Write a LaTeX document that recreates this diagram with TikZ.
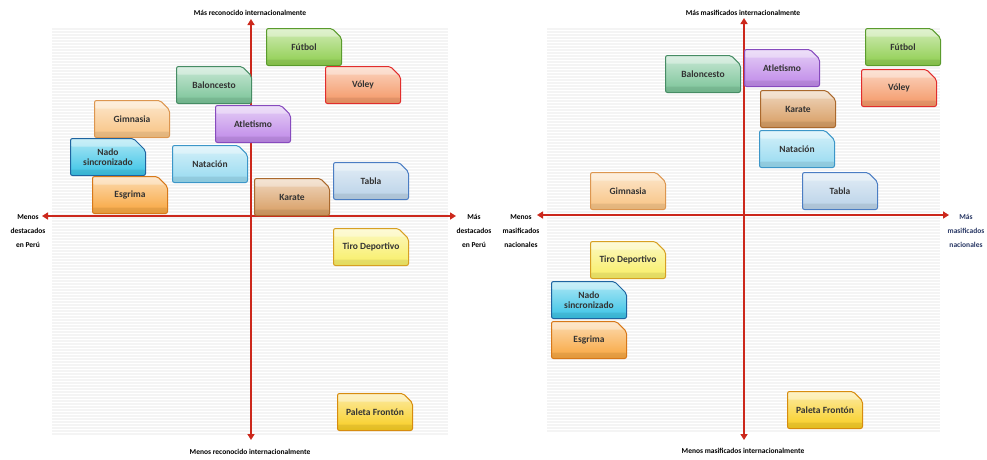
\documentclass[tikz,border=0pt]{standalone}
\usepackage{fontspec}
\setmainfont{Carlito}
\usetikzlibrary{arrows.meta,shapes.misc}
\definecolor{axred}{RGB}{204,40,28}
\definecolor{bggray}{RGB}{244,244,244}
\definecolor{navylbl}{RGB}{40,55,100}
\definecolor{cfut}{RGB}{140,205,75}\definecolor{bfut}{RGB}{90,155,45}
\definecolor{cbal}{RGB}{120,195,150}\definecolor{bbal}{RGB}{70,140,100}
\definecolor{cvol}{RGB}{244,150,100}\definecolor{bvol}{RGB}{225,45,45}
\definecolor{cgim}{RGB}{248,195,130}\definecolor{bgim}{RGB}{220,150,80}
\definecolor{catl}{RGB}{190,135,232}\definecolor{batl}{RGB}{135,75,190}
\definecolor{cnad}{RGB}{55,195,230}\definecolor{bnad}{RGB}{30,100,160}
\definecolor{cnat}{RGB}{150,218,240}\definecolor{bnat}{RGB}{60,150,200}
\definecolor{cesg}{RGB}{248,165,60}\definecolor{besg}{RGB}{215,120,25}
\definecolor{ckar}{RGB}{215,155,95}\definecolor{bkar}{RGB}{170,105,45}
\definecolor{ctab}{RGB}{185,210,232}\definecolor{btab}{RGB}{75,125,195}
\definecolor{ctir}{RGB}{248,238,100}\definecolor{btir}{RGB}{215,160,35}
\definecolor{cpal}{RGB}{248,205,30}\definecolor{bpal}{RGB}{215,140,15}
\tikzset{
  bx/.style 2 args={chamfered rectangle, chamfered rectangle corners=north east,
    chamfered rectangle xsep=6pt, chamfered rectangle ysep=6pt,
    minimum width=75pt, minimum height=37pt, inner sep=0pt,
    draw=#2, line width=1pt, rounded corners=2pt,
    top color=#1!40!white, bottom color=#1,
    font=\fontsize{9.5}{10.5}\selectfont\bfseries, text=black!80, align=center,
    path picture={
      \fill[white,opacity=.35] (path picture bounding box.north west) rectangle ([yshift=-8pt]path picture bounding box.north east);
      \fill[black,opacity=.08] ([yshift=6pt]path picture bounding box.south west) rectangle (path picture bounding box.south east);
    }},
  axis/.style={draw=axred, line width=2.2pt, {Triangle[length=6pt,width=7pt]}-{Triangle[length=6pt,width=7pt]}},
  axlbl/.style={font=\fontsize{7.5}{14}\selectfont\bfseries, text=black, align=center, inner sep=1pt},
  bgpanel/.style={fill=bggray}
}
\begin{document}
\begin{tikzpicture}[x=1pt,y=-1pt]
\useasboundingbox (0,0) rectangle (987,459);
\fill[white] (0,0) rectangle (987,459);
% ---------- Left panel ----------
\fill[bgpanel] (52,28) rectangle (448,435);
\foreach \yy in {30,33,...,434} {\draw[white,line width=0.6pt] (52,\yy) -- (448,\yy);}
\coordinate (lT) at (251,19);
\coordinate (lB) at (251,440);
\coordinate (lL) at (42,216);
\coordinate (lR) at (456,216);
\draw[axis] (lL) -- (lR);
\draw[axis] (lT) -- (lB);
\node[axlbl] (lTl) at (250,13) {Más reconocido internacionalmente};
\node[axlbl] (lBl) at (250,452) {Menos reconocido internacionalmente};
\node[axlbl] (lLl) at (28,231) {Menos\\destacados\\en Perú};
\node[axlbl] (lRl) at (474,231) {Más\\destacados\\en Perú};
\node[bx={cfut}{bfut}] (lfut) at (304,47) {Fútbol};
\node[bx={cbal}{bbal}] (lbal) at (214,85) {Baloncesto};
\node[bx={cvol}{bvol}] (lvol) at (363,85) {Vóley};
\node[bx={cgim}{bgim}] (lgim) at (132,119) {Gimnasia};
\node[bx={catl}{batl}] (latl) at (253,124) {Atletismo};
\node[bx={cnad}{bnad}] (lnad) at (108,157) {Nado\\sincronizado};
\node[bx={cnat}{bnat}] (lnat) at (210,164) {Natación};
\node[bx={cesg}{besg}] (lesg) at (130,195) {Esgrima};
\node[bx={ckar}{bkar}] (lkar) at (292,197) {Karate};
\node[bx={ctab}{btab}] (ltab) at (371,181) {Tabla};
\node[bx={ctir}{btir}] (ltir) at (371,247) {Tiro Deportivo};
\node[bx={cpal}{bpal}] (lpal) at (375,412) {Paleta Frontón};
% ---------- Right panel ----------
\fill[bgpanel] (547,28) rectangle (940,432);
\foreach \yy in {30,33,...,431} {\draw[white,line width=0.6pt] (547,\yy) -- (940,\yy);}
\coordinate (rT) at (744,18);
\coordinate (rB) at (744,440);
\coordinate (rL) at (537,215);
\coordinate (rR) at (949,215);
\draw[axis] (rL) -- (rR);
\draw[axis] (rT) -- (rB);
\node[axlbl] (rTl) at (743,13) {Más masificados internacionalmente};
\node[axlbl] (rBl) at (743,451) {Menos masificados internacionalmente};
\node[axlbl] (rLl) at (521,231) {Menos\\masificados\\nacionales};
\node[axlbl,text=navylbl] (rRl) at (966,231) {Más\\masificados\\nacionales};
\node[bx={cfut}{bfut}] (rfut) at (903,47) {Fútbol};
\node[bx={cvol}{bvol}] (rvol) at (899,88) {Vóley};
\node[bx={cbal}{bbal}] (rbal) at (703,74) {Baloncesto};
\node[bx={catl}{batl}] (ratl) at (782,68) {Atletismo};
\node[bx={ckar}{bkar}] (rkar) at (798,109) {Karate};
\node[bx={cnat}{bnat}] (rnat) at (797,149) {Natación};
\node[bx={cgim}{bgim}] (rgim) at (628,191) {Gimnasia};
\node[bx={ctab}{btab}] (rtab) at (840,191) {Tabla};
\node[bx={ctir}{btir}] (rtir) at (628,260) {Tiro Deportivo};
\node[bx={cnad}{bnad}] (rnad) at (589,300) {Nado\\sincronizado};
\node[bx={cesg}{besg}] (resg) at (589,340) {Esgrima};
\node[bx={cpal}{bpal}] (rpal) at (825,410) {Paleta Frontón};
\end{tikzpicture}
\end{document}
